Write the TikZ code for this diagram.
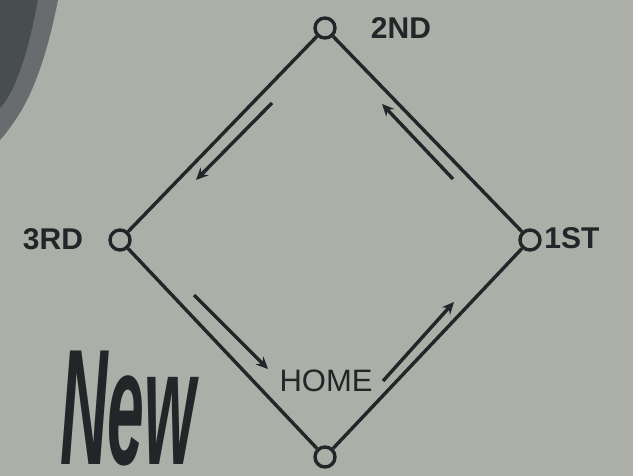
\documentclass[tikz,border=0pt]{standalone}
\usepackage{fontspec}
\usepackage{graphicx}
\setmainfont{Liberation Sans}
\usetikzlibrary{arrows.meta}
\definecolor{bg}{RGB}{172,174,168}
\definecolor{ink}{RGB}{34,38,40}
\definecolor{cornershadow}{RGB}{104,108,111}
\definecolor{cornercore}{RGB}{72,77,80}
\tikzset{
  base/.style={circle, draw=ink, line width=3.4pt, fill=bg, minimum size=20pt, inner sep=0pt},
  baseline/.style={draw=ink, line width=3.4pt},
  runarrow/.style={draw=ink, line width=3.4pt, -{Stealth[length=12pt,width=11pt]}},
  lbl/.style={text=ink, font=\bfseries\fontsize{30}{30}\selectfont, inner sep=0pt},
  homelbl/.style={text=ink, font=\fontsize{31}{31}\selectfont, inner sep=0pt},
}
\begin{document}
\begin{tikzpicture}[x=1pt,y=-1pt]
\fill[bg] (0,0) rectangle (633,476);
\useasboundingbox (0,0) rectangle (633,476);
% shadow in the corner
\fill[cornershadow] (0,0) -- (58,0) .. controls (50,40) and (38,85) .. (18,116) .. controls (10,128) and (4,136) .. (0,140) -- cycle;
\fill[cornercore] (0,0) -- (38,0) .. controls (32,30) and (26,60) .. (12,90) .. controls (8,98) and (4,104) .. (0,108) -- cycle;
% bases
\node[base] (c2) at (325,28) {};
\node[base] (c3) at (120,240) {};
\node[base] (c1) at (530,240) {};
\node[base] (ch) at (325,457) {};
% base paths
\draw[baseline] (c2) -- (c3);
\draw[baseline] (c3) -- (ch);
\draw[baseline] (ch) -- (c1);
\draw[baseline] (c1) -- (c2);
% labels
\node[lbl] (l2) at (401,28) {2ND};
\node[lbl] (l3) at (53,239) {3RD};
\node[lbl] (l1) at (572,238) {1ST};
\node[homelbl] (lh) at (326,381) {HOME};
% running arrows
\coordinate (a1s) at (272,103);
\coordinate (a1e) at (196,180);
\coordinate (a2s) at (453,179);
\coordinate (a2e) at (382,104);
\coordinate (a3s) at (194,295);
\coordinate (a3e) at (268,369);
\coordinate (a4s) at (383,381);
\coordinate (a4e) at (454,302);
\draw[runarrow] (a1s) -- (a1e);
\draw[runarrow] (a2s) -- (a2e);
\draw[runarrow] (a3s) -- (a3e);
\draw[runarrow] (a4s) -- (a4e);
% script word
\node[text=ink, inner sep=0pt, anchor=south west] (new) at (60,466)
  {\scalebox{0.4}[1]{\bfseries\itshape\fontsize{165}{165}\selectfont New}};
\end{tikzpicture}
\end{document}
